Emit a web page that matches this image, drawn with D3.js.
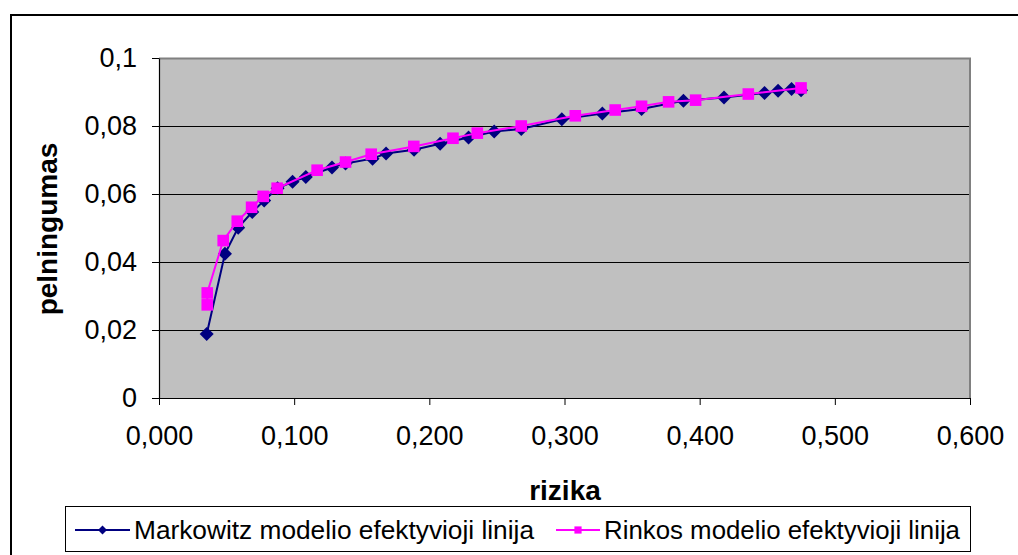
<!DOCTYPE html>
<html>
<head>
<meta charset="utf-8">
<script src="https://cdn.jsdelivr.net/npm/d3@7"></script>
<style>
  html, body { margin: 0; padding: 0; background: #fff; }
  svg { display: block; font-family: "Liberation Sans", Arial, sans-serif; }
</style>
</head>
<body>
<svg id="chart" width="1018" height="555"></svg>
<script>
// ---- data ----
const markowitzRisk   = [0.0353, 0.0488, 0.0586, 0.0690, 0.0778, 0.0877, 0.0988, 0.1086, 0.1280, 0.1380, 0.1580, 0.1680, 0.1887, 0.2080, 0.2290, 0.2480, 0.2680, 0.2980, 0.3280, 0.3570, 0.3880, 0.4180, 0.4480, 0.4580, 0.4680, 0.4750];
const markowitzReturn = [0.0188, 0.0424, 0.0501, 0.0547, 0.0581, 0.0617, 0.0636, 0.0650, 0.0678, 0.0690, 0.0704, 0.0719, 0.0730, 0.0748, 0.0766, 0.0784, 0.0791, 0.0820, 0.0837, 0.0850, 0.0874, 0.0884, 0.0897, 0.0904, 0.0909, 0.0905];
const rinkosRisk      = [0.0357, 0.0357, 0.0475, 0.0579, 0.0685, 0.0771, 0.0874, 0.1170, 0.1380, 0.1570, 0.1885, 0.2175, 0.2355, 0.2680, 0.3080, 0.3375, 0.3570, 0.3770, 0.3970, 0.4360, 0.4750];
const rinkosReturn    = [0.0274, 0.0309, 0.0463, 0.0520, 0.0561, 0.0593, 0.0617, 0.0670, 0.0694, 0.0717, 0.0740, 0.0764, 0.0779, 0.0800, 0.0830, 0.0847, 0.0858, 0.0871, 0.0876, 0.0894, 0.0912];
const xTickValues = [0, 0.1, 0.2, 0.3, 0.4, 0.5, 0.6];
const xTickLabels = ["0,000", "0,100", "0,200", "0,300", "0,400", "0,500", "0,600"];
const yTickValues = [0, 0.02, 0.04, 0.06, 0.08, 0.1];
const yTickLabels = ["0", "0,02", "0,04", "0,06", "0,08", "0,1"];
const seriesNames = ["Markowitz modelio efektyvioji linija", "Rinkos modelio efektyvioji linija"];
const xTitle = "rizika";
const yTitle = "pelningumas";

const markowitz = markowitzRisk.map((r, i) => ({x: r, y: markowitzReturn[i]}));
const rinkos = rinkosRisk.map((r, i) => ({x: r, y: rinkosReturn[i]}));

// ---- layout ----
const svg = d3.select("#chart");
const plot = {left: 159, right: 970, top: 58, bottom: 398};
const x = d3.scaleLinear().domain([0, 0.6]).range([plot.left, plot.right]);
const y = d3.scaleLinear().domain([0, 0.1]).range([plot.bottom, plot.top]);

// outer frame
svg.append("rect").attr("x", 11).attr("y", 15).attr("width", 1040).attr("height", 600)
  .attr("fill", "#fff").attr("stroke", "#000").attr("stroke-width", 2);

// plot area
svg.append("rect").attr("x", plot.left).attr("y", plot.top)
  .attr("width", plot.right - plot.left).attr("height", plot.bottom - plot.top)
  .attr("fill", "#C0C0C0");

// gridlines
svg.append("g").selectAll("line").data(yTickValues.filter(v => v > 0 && v < 0.1)).join("line")
  .attr("x1", plot.left).attr("x2", plot.right)
  .attr("y1", d => Math.round(y(d)) + 0.5).attr("y2", d => Math.round(y(d)) + 0.5)
  .attr("stroke", "#000").attr("stroke-width", 1);

// plot border (top & right gray)
svg.append("path")
  .attr("d", `M${plot.left},${plot.top + 0.5}H${plot.right}V${plot.bottom}`)
  .attr("fill", "none").attr("stroke", "#808080").attr("stroke-width", 2);

// axes
const fs = 27;
const xAxis = d3.axisBottom(x).tickValues(xTickValues).tickSize(7)
  .tickFormat((d, i) => xTickLabels[i]).tickSizeOuter(0).tickPadding(21);
const gx = svg.append("g").attr("transform", `translate(0,${plot.bottom})`).call(xAxis);
const yAxis = d3.axisLeft(y).tickValues(yTickValues).tickSize(7)
  .tickFormat((d, i) => yTickLabels[i]).tickSizeOuter(0).tickPadding(15);
const gy = svg.append("g").attr("transform", `translate(${plot.left},0)`).call(yAxis);
[gx, gy].forEach(g => {
  g.select(".domain").attr("stroke", "#000").attr("stroke-width", 1.2);
  g.selectAll(".tick line").attr("stroke", "#000");
  g.selectAll(".tick text").attr("fill", "#000").style("font-size", fs + "px")
    .style("font-family", "'Liberation Sans', Arial, sans-serif");
});

// axis titles
svg.append("text").attr("x", 565).attr("y", 500).attr("text-anchor", "middle")
  .style("font-size", "28px").style("font-weight", "bold").text(xTitle);
svg.append("text").attr("transform", "translate(57,229) rotate(-90)").attr("text-anchor", "middle")
  .style("font-size", "28px").style("font-weight", "bold").text(yTitle);

// symbols
const diamondPath = r => `M0,${-r}L${r},0L0,${r}L${-r},0Z`;
const squarePath = h => `M${-h},${-h}H${h}V${h}H${-h}Z`;

// series
const line = d3.line().x(d => x(d.x)).y(d => y(d.y));

svg.append("path").datum(markowitz).attr("d", line)
  .attr("fill", "none").attr("stroke", "#000080").attr("stroke-width", 2);
svg.append("g").selectAll("path").data(markowitz).join("path")
  .attr("transform", d => `translate(${x(d.x)},${y(d.y)})`).attr("d", diamondPath(7)).attr("fill", "#000080");

svg.append("path").datum(rinkos).attr("d", line)
  .attr("fill", "none").attr("stroke", "#FF00FF").attr("stroke-width", 2);
svg.append("g").selectAll("path").data(rinkos).join("path")
  .attr("transform", d => `translate(${x(d.x)},${y(d.y)})`).attr("d", squarePath(5.8)).attr("fill", "#FF00FF");

// legend
const lg = svg.append("g");
lg.append("rect").attr("x", 65.5).attr("y", 506.5).attr("width", 905).attr("height", 45)
  .attr("fill", "#fff").attr("stroke", "#000").attr("stroke-width", 1);
const legendItems = [
  {name: seriesNames[0], color: "#000080", sym: diamondPath(4.5), x0: 75, x1: 130, tx: 134},
  {name: seriesNames[1], color: "#FF00FF", sym: squarePath(3.6), x0: 556, x1: 600, tx: 604}
];
legendItems.forEach(it => {
  lg.append("line").attr("x1", it.x0).attr("x2", it.x1).attr("y1", 530).attr("y2", 530)
    .attr("stroke", it.color).attr("stroke-width", 2);
  lg.append("path").attr("transform", `translate(${(it.x0 + it.x1) / 2},530)`).attr("d", it.sym).attr("fill", it.color);
  lg.append("text").attr("x", it.tx).attr("y", 539).style("font-size", "26px")
    .attr("textLength", it === legendItems[0] ? 400 : 356).attr("lengthAdjust", "spacingAndGlyphs")
    .text(it.name);
});
</script>
</body>
</html>
